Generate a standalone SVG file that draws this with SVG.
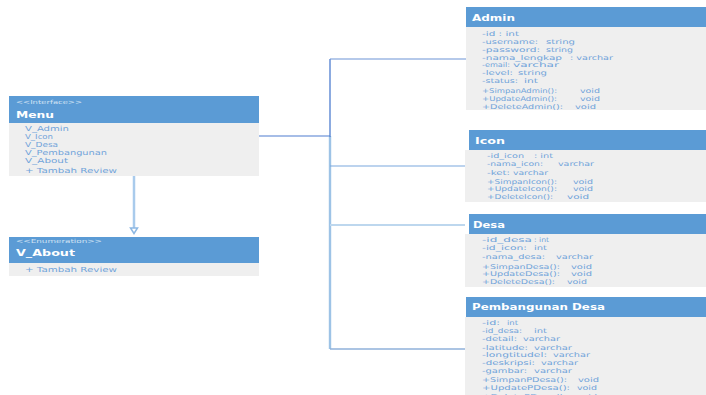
<svg xmlns="http://www.w3.org/2000/svg" width="706" height="395" viewBox="0 0 706 395">
<defs>
<style>
.hdr{fill:#5B9BD5}
.bd{fill:#EFEFEF}
.t{font-family:"DejaVu Sans","Liberation Sans",sans-serif;font-size:6.6px;fill:#6FA3DA}
.m{font-family:"DejaVu Sans","Liberation Sans",sans-serif;font-size:7px;fill:#6FA3DA}
.ti{font-family:"DejaVu Sans","Liberation Sans",sans-serif;font-size:9px;font-weight:bold;fill:#FFFFFF}
.st{font-family:"DejaVu Sans","Liberation Sans",sans-serif;font-size:5.5px;fill:#D2E3F4}
.c{fill:none}
</style>
<marker id="tri" markerUnits="userSpaceOnUse" markerWidth="12" markerHeight="10" refX="6" refY="1" orient="0" viewBox="0 0 12 10">
<path d="M2.5,1 L9.5,1 L6,6.5 Z" fill="#FFFFFF" stroke="#8DB8E3" stroke-width="1.5"/>
</marker>
</defs>
<rect width="706" height="395" fill="#FFFFFF"/>

<g id="connectors" class="c">
<line x1="134" y1="176" x2="134" y2="228" stroke="#A9CBEC" stroke-width="2.5" marker-end="url(#tri)"/>
<line x1="259" y1="136" x2="330" y2="136" stroke="#4E7DD0" stroke-width="1.2"/>
<line x1="330" y1="136" x2="330" y2="349" stroke="#9DC3E6" stroke-width="2.4"/>
<line x1="330" y1="59" x2="330" y2="137" stroke="#4E7DD0" stroke-width="1.3"/>
<line x1="330" y1="59" x2="466" y2="59" stroke="#6C93D6" stroke-width="1.2"/>
<line x1="330" y1="166" x2="465" y2="166" stroke="#7AA8DE" stroke-width="1.2"/>
<line x1="330" y1="225" x2="465" y2="225" stroke="#BDD7EE" stroke-width="2"/>
<line x1="330" y1="349" x2="465" y2="349" stroke="#8FB0DA" stroke-width="1.5"/>
</g>

<g id="menu">
<rect class="bd" x="9" y="123" width="250" height="53"/>
<rect class="hdr" x="9" y="96" width="250" height="27"/>
<text class="st" x="16" y="104" textLength="66" lengthAdjust="spacingAndGlyphs">&lt;&lt;Interface&gt;&gt;</text>
<text class="ti" x="16" y="117.5" textLength="38" lengthAdjust="spacingAndGlyphs">Menu</text>
<text class="m" x="25" y="130.5" textLength="44" lengthAdjust="spacingAndGlyphs">V_Admin</text>
<text class="m" x="25" y="138.5" textLength="28" lengthAdjust="spacingAndGlyphs">V_Icon</text>
<text class="m" x="25" y="146.5" textLength="33" lengthAdjust="spacingAndGlyphs">V_Desa</text>
<text class="m" x="25" y="154.5" textLength="82" lengthAdjust="spacingAndGlyphs">V_Pembangunan</text>
<text class="m" x="25" y="162.5" textLength="43" lengthAdjust="spacingAndGlyphs">V_About</text>
<text class="m" x="25" y="173" textLength="92" lengthAdjust="spacingAndGlyphs">+ Tambah  Review</text>
</g>

<g id="v_about">
<rect class="bd" x="9" y="263" width="250" height="13"/>
<rect class="hdr" x="9" y="237" width="250" height="26"/>
<text class="st" x="16" y="243" textLength="86" lengthAdjust="spacingAndGlyphs">&lt;&lt;Enumeration&gt;&gt;</text>
<text class="ti" x="16" y="255.5" textLength="59" lengthAdjust="spacingAndGlyphs">V_About</text>
<text class="m" x="25" y="271.5" textLength="92" lengthAdjust="spacingAndGlyphs">+ Tambah  Review</text>
</g>

<g id="admin">
<rect class="bd" x="466" y="27" width="240" height="83"/>
<rect class="hdr" x="466" y="7" width="240" height="20"/>
<text class="ti" x="472" y="20.5" textLength="43" lengthAdjust="spacingAndGlyphs">Admin</text>
<text class="t" y="35.5"><tspan x="482" textLength="37" lengthAdjust="spacingAndGlyphs">-id  : int</tspan></text>
<text class="t" y="43.5"><tspan x="482" textLength="56" lengthAdjust="spacingAndGlyphs">-username:</tspan><tspan x="546" textLength="29" lengthAdjust="spacingAndGlyphs">string</tspan></text>
<text class="t" y="51.5"><tspan x="482" textLength="58" lengthAdjust="spacingAndGlyphs">-password:</tspan><tspan x="546" textLength="27" lengthAdjust="spacingAndGlyphs">string</tspan></text>
<text class="t" y="59.5"><tspan x="482" textLength="80" lengthAdjust="spacingAndGlyphs">-nama_lengkap</tspan><tspan x="570" textLength="43" lengthAdjust="spacingAndGlyphs">: varchar</tspan></text>
<text class="t" y="67"><tspan x="482" textLength="28" lengthAdjust="spacingAndGlyphs">-email:</tspan><tspan x="513" textLength="46" lengthAdjust="spacingAndGlyphs">varchar</tspan></text>
<text class="t" y="74.5"><tspan x="482" textLength="31" lengthAdjust="spacingAndGlyphs">-level:</tspan><tspan x="518" textLength="29" lengthAdjust="spacingAndGlyphs">string</tspan></text>
<text class="t" y="83"><tspan x="482" textLength="36" lengthAdjust="spacingAndGlyphs">-status:</tspan><tspan x="524" textLength="14" lengthAdjust="spacingAndGlyphs">int</tspan></text>
<text class="t" y="92.5"><tspan x="482" textLength="75" lengthAdjust="spacingAndGlyphs">+SimpanAdmin():</tspan><tspan x="580" textLength="20" lengthAdjust="spacingAndGlyphs">void</tspan></text>
<text class="t" y="100.5"><tspan x="482" textLength="75" lengthAdjust="spacingAndGlyphs">+UpdateAdmin():</tspan><tspan x="580" textLength="20" lengthAdjust="spacingAndGlyphs">void</tspan></text>
<text class="t" y="108.5"><tspan x="482" textLength="81" lengthAdjust="spacingAndGlyphs">+DeleteAdmin():</tspan><tspan x="575" textLength="21" lengthAdjust="spacingAndGlyphs">void</tspan></text>
</g>

<g id="icon">
<rect class="bd" x="465" y="150" width="241" height="52"/>
<rect class="hdr" x="469" y="130" width="237" height="20"/>
<text class="ti" x="475" y="143.5" textLength="30" lengthAdjust="spacingAndGlyphs">Icon</text>
<text class="t" y="157.5"><tspan x="487" textLength="37" lengthAdjust="spacingAndGlyphs">-id_icon</tspan><tspan x="534" textLength="19" lengthAdjust="spacingAndGlyphs">: int</tspan></text>
<text class="t" y="166"><tspan x="487" textLength="56" lengthAdjust="spacingAndGlyphs">-nama_icon:</tspan><tspan x="558" textLength="36" lengthAdjust="spacingAndGlyphs">varchar</tspan></text>
<text class="t" y="174.5"><tspan x="487" textLength="23" lengthAdjust="spacingAndGlyphs">-ket:</tspan><tspan x="513" textLength="35" lengthAdjust="spacingAndGlyphs">varchar</tspan></text>
<text class="t" y="183.5"><tspan x="487" textLength="70" lengthAdjust="spacingAndGlyphs">+SimpanIcon():</tspan><tspan x="573" textLength="20" lengthAdjust="spacingAndGlyphs">void</tspan></text>
<text class="t" y="190.8"><tspan x="487" textLength="70" lengthAdjust="spacingAndGlyphs">+UpdateIcon():</tspan><tspan x="573" textLength="20" lengthAdjust="spacingAndGlyphs">void</tspan></text>
<text class="t" y="199"><tspan x="487" textLength="66" lengthAdjust="spacingAndGlyphs">+DeleteIcon():</tspan><tspan x="567" textLength="22" lengthAdjust="spacingAndGlyphs">void</tspan></text>
</g>

<g id="desa">
<rect class="bd" x="465" y="234" width="241" height="53"/>
<rect class="hdr" x="469" y="214" width="237" height="20"/>
<text class="ti" x="473" y="228" textLength="32" lengthAdjust="spacingAndGlyphs">Desa</text>
<text class="t" y="242"><tspan x="482" textLength="50" lengthAdjust="spacingAndGlyphs">-id_desa</tspan><tspan x="534" textLength="15" lengthAdjust="spacingAndGlyphs">: int</tspan></text>
<text class="t" y="250.3"><tspan x="482" textLength="45" lengthAdjust="spacingAndGlyphs">-id_icon:</tspan><tspan x="534" textLength="13" lengthAdjust="spacingAndGlyphs">int</tspan></text>
<text class="t" y="258.6"><tspan x="482" textLength="63" lengthAdjust="spacingAndGlyphs">-nama_desa:</tspan><tspan x="556" textLength="37" lengthAdjust="spacingAndGlyphs">varchar</tspan></text>
<text class="t" y="268.5"><tspan x="482" textLength="78" lengthAdjust="spacingAndGlyphs">+SimpanDesa():</tspan><tspan x="571" textLength="21" lengthAdjust="spacingAndGlyphs">void</tspan></text>
<text class="t" y="276.2"><tspan x="482" textLength="78" lengthAdjust="spacingAndGlyphs">+UpdateDesa():</tspan><tspan x="571" textLength="21" lengthAdjust="spacingAndGlyphs">void</tspan></text>
<text class="t" y="284"><tspan x="482" textLength="73" lengthAdjust="spacingAndGlyphs">+DeleteDesa():</tspan><tspan x="567" textLength="20" lengthAdjust="spacingAndGlyphs">void</tspan></text>
</g>

<g id="pembangunan_desa">
<rect class="bd" x="465" y="317" width="241" height="78"/>
<rect class="hdr" x="466" y="297" width="240" height="20"/>
<text class="ti" x="472" y="310" textLength="133" lengthAdjust="spacingAndGlyphs">Pembangunan Desa</text>
<text class="t" y="325.3"><tspan x="482" textLength="18" lengthAdjust="spacingAndGlyphs">-id:</tspan><tspan x="507" textLength="11" lengthAdjust="spacingAndGlyphs">int</tspan></text>
<text class="t" y="333.3"><tspan x="482" textLength="40" lengthAdjust="spacingAndGlyphs">-id_desa:</tspan><tspan x="534" textLength="13" lengthAdjust="spacingAndGlyphs">int</tspan></text>
<text class="t" y="341.3"><tspan x="482" textLength="35" lengthAdjust="spacingAndGlyphs">-detail:</tspan><tspan x="523" textLength="37" lengthAdjust="spacingAndGlyphs">varchar</tspan></text>
<text class="t" y="349.5"><tspan x="482" textLength="46" lengthAdjust="spacingAndGlyphs">-latitude:</tspan><tspan x="534" textLength="38" lengthAdjust="spacingAndGlyphs">varchar</tspan></text>
<text class="t" y="357"><tspan x="482" textLength="65" lengthAdjust="spacingAndGlyphs">-longtitudel:</tspan><tspan x="553" textLength="37" lengthAdjust="spacingAndGlyphs">varchar</tspan></text>
<text class="t" y="364.6"><tspan x="482" textLength="53" lengthAdjust="spacingAndGlyphs">-deskripsi:</tspan><tspan x="541" textLength="37" lengthAdjust="spacingAndGlyphs">varchar</tspan></text>
<text class="t" y="372.6"><tspan x="482" textLength="45" lengthAdjust="spacingAndGlyphs">-gambar:</tspan><tspan x="534" textLength="38" lengthAdjust="spacingAndGlyphs">varchar</tspan></text>
<text class="t" y="382"><tspan x="482" textLength="85" lengthAdjust="spacingAndGlyphs">+SimpanPDesa():</tspan><tspan x="578" textLength="21" lengthAdjust="spacingAndGlyphs">void</tspan></text>
<text class="t" y="390.3"><tspan x="482" textLength="88" lengthAdjust="spacingAndGlyphs">+UpdatePDesa():</tspan><tspan x="577" textLength="20" lengthAdjust="spacingAndGlyphs">void</tspan></text>
<text class="t" y="398.6"><tspan x="482" textLength="85" lengthAdjust="spacingAndGlyphs">+DeletePDesa():</tspan><tspan x="577" textLength="20" lengthAdjust="spacingAndGlyphs">void</tspan></text>
</g>
</svg>
